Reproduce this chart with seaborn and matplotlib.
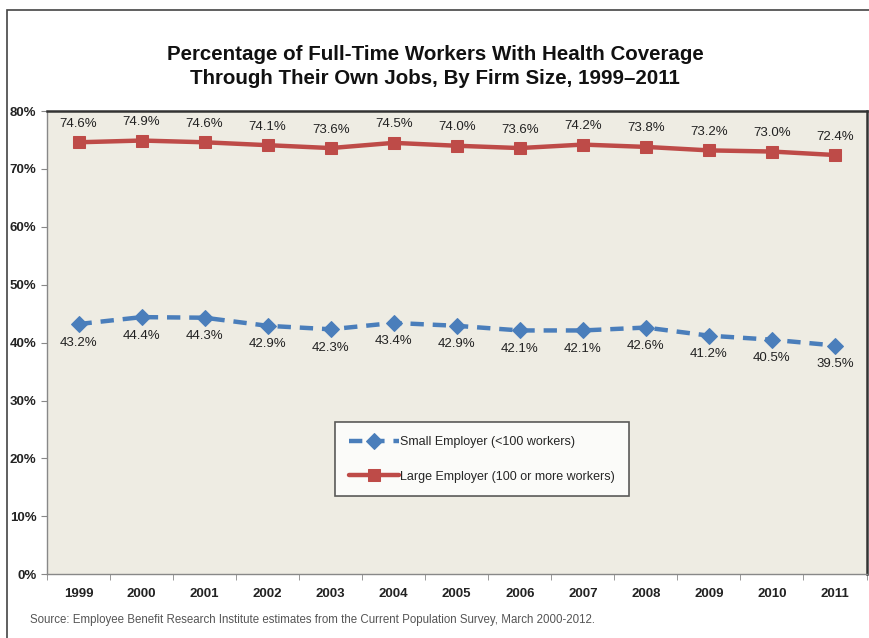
import matplotlib
matplotlib.use("Agg")
import matplotlib.pyplot as plt
import seaborn as sns
import pandas as pd
import numpy as np
from matplotlib.patches import Rectangle
from matplotlib.ticker import FixedLocator, FuncFormatter

years = ["1999", "2000", "2001", "2002", "2003", "2004", "2005", "2006",
         "2007", "2008", "2009", "2010", "2011"]
small = [43.2, 44.4, 44.3, 42.9, 42.3, 43.4, 42.9, 42.1, 42.1, 42.6, 41.2, 40.5, 39.5]
large = [74.6, 74.9, 74.6, 74.1, 73.6, 74.5, 74.0, 73.6, 74.2, 73.8, 73.2, 73.0, 72.4]
small_name = "Small Employer (<100 workers)"
large_name = "Large Employer (100 or more workers)"
title = "Percentage of Full-Time Workers With Health Coverage\nThrough Their Own Jobs, By Firm Size, 1999\u20132011"
source = "Source: Employee Benefit Research Institute estimates from the Current Population Survey, March 2000-2012."

sns.set_style("white")
plt.rcParams['font.family'] = ['Liberation Sans', 'DejaVu Sans']

blue = "#4A7EBB"
red = "#BE4B48"

fig = plt.figure(figsize=(8.7, 6.38), dpi=100)
fig.patch.set_facecolor("white")
ax = fig.add_axes([0.054, 0.1, 0.942, 0.726])
ax.set_facecolor("#EEECE3")

x = np.arange(len(years))
df = pd.DataFrame({"x": np.concatenate([x, x]),
                   "v": small + large,
                   "s": [small_name] * len(x) + [large_name] * len(x)})

sns.lineplot(data=df[df.s == small_name], x="x", y="v", ax=ax, color=blue,
             linewidth=3.2, linestyle=(0, (3, 2)), marker="D", markersize=8,
             markeredgecolor=blue, label=small_name)
sns.lineplot(data=df[df.s == large_name], x="x", y="v", ax=ax, color=red,
             linewidth=3.2, marker="s", markersize=9,
             markeredgecolor=red, label=large_name)

for xi, v in zip(x, large):
    ax.annotate(f"{v:.1f}%", (xi, v), xytext=(0, 9), textcoords="offset points",
                ha="center", va="bottom", fontsize=9.5, color="#222222")
for xi, v in zip(x, small):
    ax.annotate(f"{v:.1f}%", (xi, v), xytext=(0, -9), textcoords="offset points",
                ha="center", va="top", fontsize=9.5, color="#222222")

ax.set_xlim(-0.5, len(years) - 0.5)
ax.set_ylim(0, 80)
ax.set_xticks(x)
ax.set_xticklabels(years, fontsize=9.5, fontweight="bold", color="#222222")
ax.xaxis.set_minor_locator(FixedLocator(np.arange(-0.5, len(years), 1.0)))
ax.tick_params(axis="x", which="major", length=0, pad=10)
ax.tick_params(axis="x", which="minor", length=4, color="#888888", direction="out", bottom=True)
ax.set_yticks(np.arange(0, 81, 10))
ax.yaxis.set_major_formatter(FuncFormatter(lambda v, p: f"{int(v)}%"))
ax.tick_params(axis="y", length=4, color="#888888", direction="out", left=True,
               labelsize=9.5, labelcolor="#222222")
for lbl in ax.get_yticklabels():
    lbl.set_fontweight("bold")
ax.set_xlabel("")
ax.set_ylabel("")

ax.spines["left"].set_color("#888888")
ax.spines["bottom"].set_color("#888888")
ax.spines["top"].set_color("#333333")
ax.spines["right"].set_color("#333333")
ax.spines["top"].set_linewidth(1.8)
ax.spines["right"].set_linewidth(1.8)
ax.spines["left"].set_linewidth(1.0)
ax.spines["bottom"].set_linewidth(1.0)

leg = ax.legend(loc="center", bbox_to_anchor=(0.531, 0.248), frameon=True,
                fontsize=9, handlelength=4, labelspacing=1.8,
                borderpad=1.1, handletextpad=0.1, fancybox=False)
leg.get_frame().set_edgecolor("#333333")
leg.get_frame().set_linewidth(1.2)
leg.get_frame().set_facecolor("white")

fig.text(0.5, 0.896, title, ha="center", va="center", fontsize=14.8,
         fontweight="bold", color="#111111", linespacing=1.3)
fig.text(0.035, 0.028, source, ha="left", va="center", fontsize=8.3, color="#555555")

fig.add_artist(Rectangle((0.008, -0.01), 1.1, 0.995, transform=fig.transFigure,
                         fill=False, edgecolor="#444444", linewidth=1.2))

fig.savefig("out.png", dpi=100)
